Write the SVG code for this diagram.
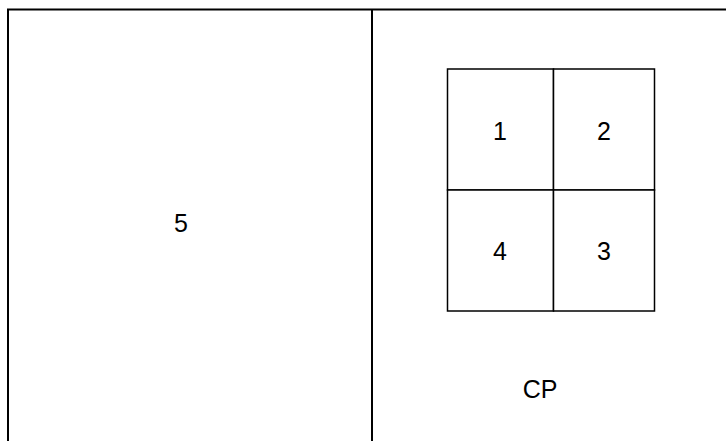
<svg xmlns="http://www.w3.org/2000/svg" width="726" height="441" viewBox="0 0 726 441">
<style>
.frame{fill:none;stroke:#000;stroke-width:2}
.cell{fill:#fff;stroke:#000;stroke-width:1.5}
.t{font-family:"Liberation Sans",Arial,sans-serif;font-size:25px;fill:#000;text-anchor:middle}
</style>
<rect width="726" height="441" fill="#fff"/>
<g id="frame">
<polyline class="frame" points="8,441 8,9.5 726,9.5"/>
<line class="frame" x1="372" y1="9.5" x2="372" y2="441"/>
</g>
<g id="area5"><text class="t" x="181" y="232">5</text></g>
<g id="cell1"><rect class="cell" x="447.5" y="69" width="106" height="121"/><text class="t" x="500" y="140">1</text></g>
<g id="cell2"><rect class="cell" x="553.5" y="69" width="101" height="121"/><text class="t" x="604" y="140">2</text></g>
<g id="cell4"><rect class="cell" x="447.5" y="190" width="106" height="121"/><text class="t" x="500" y="260">4</text></g>
<g id="cell3"><rect class="cell" x="553.5" y="190" width="101" height="121"/><text class="t" x="604" y="260">3</text></g>
<g id="cp"><text class="t" x="540" y="398">CP</text></g>
<g id="connectors"></g>
</svg>
